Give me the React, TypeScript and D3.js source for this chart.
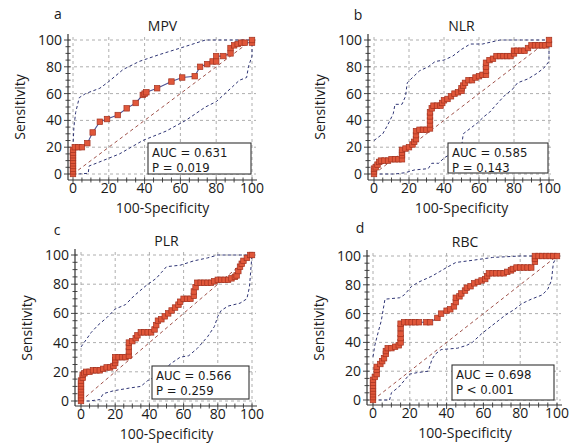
import React from "react";
import * as d3 from "d3";

type Pt = [number, number];

const majorTicks = [0, 20, 40, 60, 80, 100];
const minorTicks = d3.range(0, 101, 5);
const xTitle = "100-Specificity";
const yTitle = "Sensitivity";
const letters = ["a", "b", "c", "d"];
const titles = ["MPV", "NLR", "PLR", "RBC"];
const aucLabels = ["AUC = 0.631", "AUC = 0.585", "AUC = 0.566", "AUC = 0.698"];
const pLabels = ["P = 0.019", "P = 0.143", "P = 0.259", "P < 0.001"];

const mpvRoc: Pt[] = [[0,0],[0,2],[0,4],[0,6],[0,8],[0,10],[0,12],[0,14],[0,16],[0,18],[1,20],[3,20],[5,20],[8,23],[11,31],[15,39],[19,41],[25,44],[30,49],[35,53],[39,59],[40,60],[41,61],[47,64],[55,69],[61,72],[68,73],[71,80],[75,82],[78,84],[80,84],[80,88],[84,88],[88,90],[88,94],[90,96],[92,97],[94,98],[96,98],[100,98],[100,100]];
const mpvUpper: Pt[] = [[0,20],[0.5,35],[1.5,46],[3.5,57],[7,60],[15,64],[20,69],[28,78],[31,80],[37,84],[48,89],[60,94],[74,100],[100,100]];
const mpvLower: Pt[] = [[0,0],[3,0],[8.5,0.5],[9,6],[13,8],[26,15],[39,25],[52,32],[63,40],[74,50],[80,54],[89,65],[93,70],[97,72],[98,80],[100,88],[100,100]];

const nlrRoc: Pt[] = [[0,0],[0,2],[0,4],[1,5],[2,7],[3,9],[4,10],[6,10],[8,10],[10,11],[12,11],[14,11],[16,11],[16,14],[16,16],[16,18],[18,19],[20,20],[22,22],[23,24],[24,26],[24,29],[24,32],[26,33],[28,33],[30,33],[32,34],[32,37],[32,40],[32,43],[32,46],[33,49],[34,51],[36,51],[38,51],[39,53],[40,55],[42,56],[44,58],[46,60],[48,61],[50,62],[50,64],[51,66],[52,68],[54,70],[56,70],[58,72],[60,73],[62,74],[64,74],[64,77],[64,80],[64,83],[66,85],[68,86],[70,88],[72,88],[74,88],[76,88],[78,88],[80,90],[80,92],[82,92],[84,92],[86,92],[88,94],[90,96],[92,96],[94,96],[96,96],[98,96],[100,97],[100,100]];
const nlrUpper: Pt[] = [[0,25],[2,27],[5,30],[8,37],[11,45],[12,52],[16,52],[18,58],[19,68],[22,72],[26,77],[31,80],[35,84],[40,85],[45,88],[50,93],[55,97],[62,97],[72,100],[100,100]];
const nlrLower: Pt[] = [[0,0],[12,0],[18,1],[23,3],[31,4],[33,8],[37,8],[40,12],[44,15],[48,17],[50,20],[51,30],[55,34],[59,38],[63,43],[66,46],[70,52],[75,59],[79,63],[82,68],[88,71],[93,75],[97,79],[100,84],[100,100]];

const plrRoc: Pt[] = [[0,0],[0,2],[0,4],[0,6],[0,8],[0,10],[0,12],[0,14],[1,16],[1,18],[2,19],[3,20],[5,20],[7,21],[9,21],[11,21],[13,22],[15,23],[17,23],[19,24],[20,26],[20,28],[20,30],[22,30],[24,30],[26,30],[28,31],[28,34],[28,37],[28,40],[30,41],[32,43],[33,45],[35,47],[37,47],[39,47],[41,47],[43,49],[44,52],[45,55],[47,56],[49,58],[51,60],[53,62],[55,64],[57,66],[58,68],[60,70],[62,70],[64,70],[66,72],[66,75],[67,78],[68,81],[70,81],[72,81],[74,81],[76,81],[78,82],[80,83],[82,83],[84,83],[86,83],[88,84],[90,85],[91,86],[92,89],[93,92],[94,94],[95,96],[97,98],[99,100],[100,100]];
const plrUpper: Pt[] = [[0,37],[3,42],[6,47],[10,52],[15,57],[20,63],[26,66],[31,72],[38,79],[44,84],[47,88],[50,92],[58,93],[66,96],[74,98],[80,100],[100,100]];
const plrLower: Pt[] = [[0,0],[5,0],[11,1],[13,5],[19,7],[29,9],[35,10],[39,14],[46,18],[50,23],[53,26],[58,30],[63,31],[68,36],[74,44],[78,51],[80,58],[82,62],[86,65],[93,67],[97,70],[98.5,78],[100,100]];

const rbcRoc: Pt[] = [[0,0],[0,2],[0,4],[0,6],[0,8],[0,10],[0,12],[0,14],[1,16],[2,18],[2,21],[2,23],[4,25],[5,27],[6,29],[7,32],[7,34],[8,36],[10,36],[12,37],[14,38],[15,40],[15,43],[15,46],[15,50],[15,53],[17,54],[19,54],[21,54],[23,54],[25,54],[29,54],[31,54],[35,57],[37,60],[40,62],[42,63],[44,65],[45,68],[45,71],[47,72],[48,74],[50,76],[51,78],[53,79],[55,81],[57,82],[59,83],[61,84],[62,86],[63,88],[65,88],[67,88],[69,88],[71,88],[73,89],[75,90],[76,91],[78,92],[80,92],[82,92],[84,92],[86,92],[88,96],[88,98],[88,100],[90,100],[92,100],[94,100],[96,100],[98,100],[100,100]];
const rbcUpper: Pt[] = [[0,30],[1,38],[3,48],[4.5,55],[6.5,70],[14.5,71],[17,73],[21,79],[25,82],[32,86],[36,89],[40,92],[45,95.5],[54,97],[65,99],[80,100],[100,100]];
const rbcLower: Pt[] = [[0,0],[6,0],[9,0],[10,5],[14,9],[20,18],[24,19],[30,20],[32,28],[34,32],[37,35],[46,36],[51,38],[54,40],[59,46],[63,50],[68,55],[72,59],[77,63],[81,67],[86,70],[92,73],[95,77],[97,83],[98,95],[100,100]];

const rocs = [mpvRoc, nlrRoc, plrRoc, rbcRoc];
const uppers = [mpvUpper, nlrUpper, plrUpper, rbcUpper];
const lowers = [mpvLower, nlrLower, plrLower, rbcLower];

// panel layout (pixels)
const layouts = [
  { x0: 73, x1: 252, yTop: 40, yBot: 174, axisX: 68, axisY: 180, letterX: 58, letterY: 19, box: [148, 143, 251, 174] },
  { x0: 374, x1: 549, yTop: 40, yBot: 174, axisX: 368, axisY: 180, letterX: 358, letterY: 20, box: [448, 143, 548, 173] },
  { x0: 81, x1: 252, yTop: 255, yBot: 401, axisX: 75, axisY: 406, letterX: 57, letterY: 235, box: [152, 366, 249, 399] },
  { x0: 373, x1: 557, yTop: 256, yBot: 400, axisX: 367, axisY: 405, letterX: 360, letterY: 233, box: [452, 365, 554, 400] },
];

const FONT = "'Open Sans', 'Liberation Sans', sans-serif";
const BOXFONT = "'DejaVu Sans Condensed', 'DejaVu Sans', sans-serif";
const TEXT = "#1a1a1a";

function Panel({ i }: { i: number }) {
  const L = layouts[i];
  const x = d3.scaleLinear().domain([0, 100]).range([L.x0, L.x1]);
  const y = d3.scaleLinear().domain([0, 100]).range([L.yBot, L.yTop]);
  const line = d3.line<Pt>().x((d) => x(d[0])).y((d) => y(d[1]));
  const midX = (L.x0 + L.x1) / 2;
  const midY = (L.yTop + L.yBot) / 2;
  const [bx0, by0, bx1, by1] = L.box;
  return (
    <g>
      {majorTicks.map((t) => (
        <line key={"gx" + t} x1={x(t)} x2={x(t)} y1={L.yTop - 3} y2={L.axisY} stroke="#a5a5a5" strokeWidth={0.9} strokeDasharray="3,3" />
      ))}
      {majorTicks.map((t) => (
        <line key={"gy" + t} x1={L.axisX} x2={L.x1 + 4} y1={y(t)} y2={y(t)} stroke="#a5a5a5" strokeWidth={0.9} strokeDasharray="3,3" />
      ))}
      <line x1={L.axisX} x2={L.axisX} y1={L.yTop - 6} y2={L.axisY} stroke="#333" strokeWidth={1.2} />
      <line x1={L.axisX} x2={L.x1 + 5} y1={L.axisY} y2={L.axisY} stroke="#333" strokeWidth={1.2} />
      {minorTicks.map((t) => (
        <line key={"ty" + t} x1={L.axisX - (t % 20 === 0 ? 4 : 2.5)} x2={L.axisX + 2.5} y1={y(t)} y2={y(t)} stroke="#333" strokeWidth={0.9} />
      ))}
      {minorTicks.map((t) => (
        <line key={"tx" + t} x1={x(t)} x2={x(t)} y1={L.axisY - 2.5} y2={L.axisY + (t % 20 === 0 ? 4 : 2.5)} stroke="#333" strokeWidth={0.9} />
      ))}
      {majorTicks.map((t) => (
        <text key={"ly" + t} x={L.axisX - 6} y={y(t)} dy="0.36em" textAnchor="end" fontSize={14} fontFamily={FONT} fill={TEXT}>{t}</text>
      ))}
      {majorTicks.map((t) => (
        <text key={"lx" + t} x={x(t)} y={L.axisY + 13} textAnchor="middle" fontSize={14} fontFamily={FONT} fill={TEXT}>{t}</text>
      ))}
      <text x={midX} y={L.axisY + 33} textAnchor="middle" fontSize={14} fontFamily={FONT} fill={TEXT}>{xTitle}</text>
      <text transform={`translate(${L.axisX - 43},${midY}) rotate(-90)`} textAnchor="middle" fontSize={14} fontFamily={FONT} fill={TEXT}>{yTitle}</text>
      <text x={midX} y={L.yTop - 9} textAnchor="middle" fontSize={14} fontFamily={FONT} fill={TEXT}>{titles[i]}</text>
      <text x={L.letterX} y={L.letterY} textAnchor="middle" fontSize={14} fontFamily={FONT} fill={TEXT}>{letters[i]}</text>
      <line x1={x(0)} y1={y(0)} x2={x(100)} y2={y(100)} stroke="#a0524a" strokeWidth={1} strokeDasharray="3.5,3" />
      <path d={line(uppers[i]) || ""} fill="none" stroke="#2f3575" strokeWidth={1} strokeDasharray="3,2.5" />
      <path d={line(lowers[i]) || ""} fill="none" stroke="#2f3575" strokeWidth={1} strokeDasharray="3,2.5" />
      <path d={line(rocs[i]) || ""} fill="none" stroke="#4b5193" strokeWidth={1.1} />
      {rocs[i].map((d, k) => (
        <rect key={k} x={x(d[0]) - 2.75} y={y(d[1]) - 2.75} width={5.5} height={5.5} fill="#e0573a" stroke="#a33220" strokeWidth={0.7} />
      ))}
      <rect x={bx0} y={by0} width={bx1 - bx0} height={by1 - by0} fill="#fff" stroke="#333" strokeWidth={1.1} />
      <text x={bx0 + 4} y={by0 + 13.5} fontSize={13} fontFamily={BOXFONT} fill={TEXT}>{aucLabels[i]}</text>
      <text x={bx0 + 4} y={by0 + 28.8} fontSize={13} fontFamily={BOXFONT} fill={TEXT}>{pLabels[i]}</text>
    </g>
  );
}

export default function App() {
  return (
    <svg width={569} height={445} style={{ position: "absolute", left: 0, top: 0, background: "#fff" }}>
      <rect width={569} height={445} fill="#fff" />
      {layouts.map((_, i) => (
        <Panel key={i} i={i} />
      ))}
    </svg>
  );
}
